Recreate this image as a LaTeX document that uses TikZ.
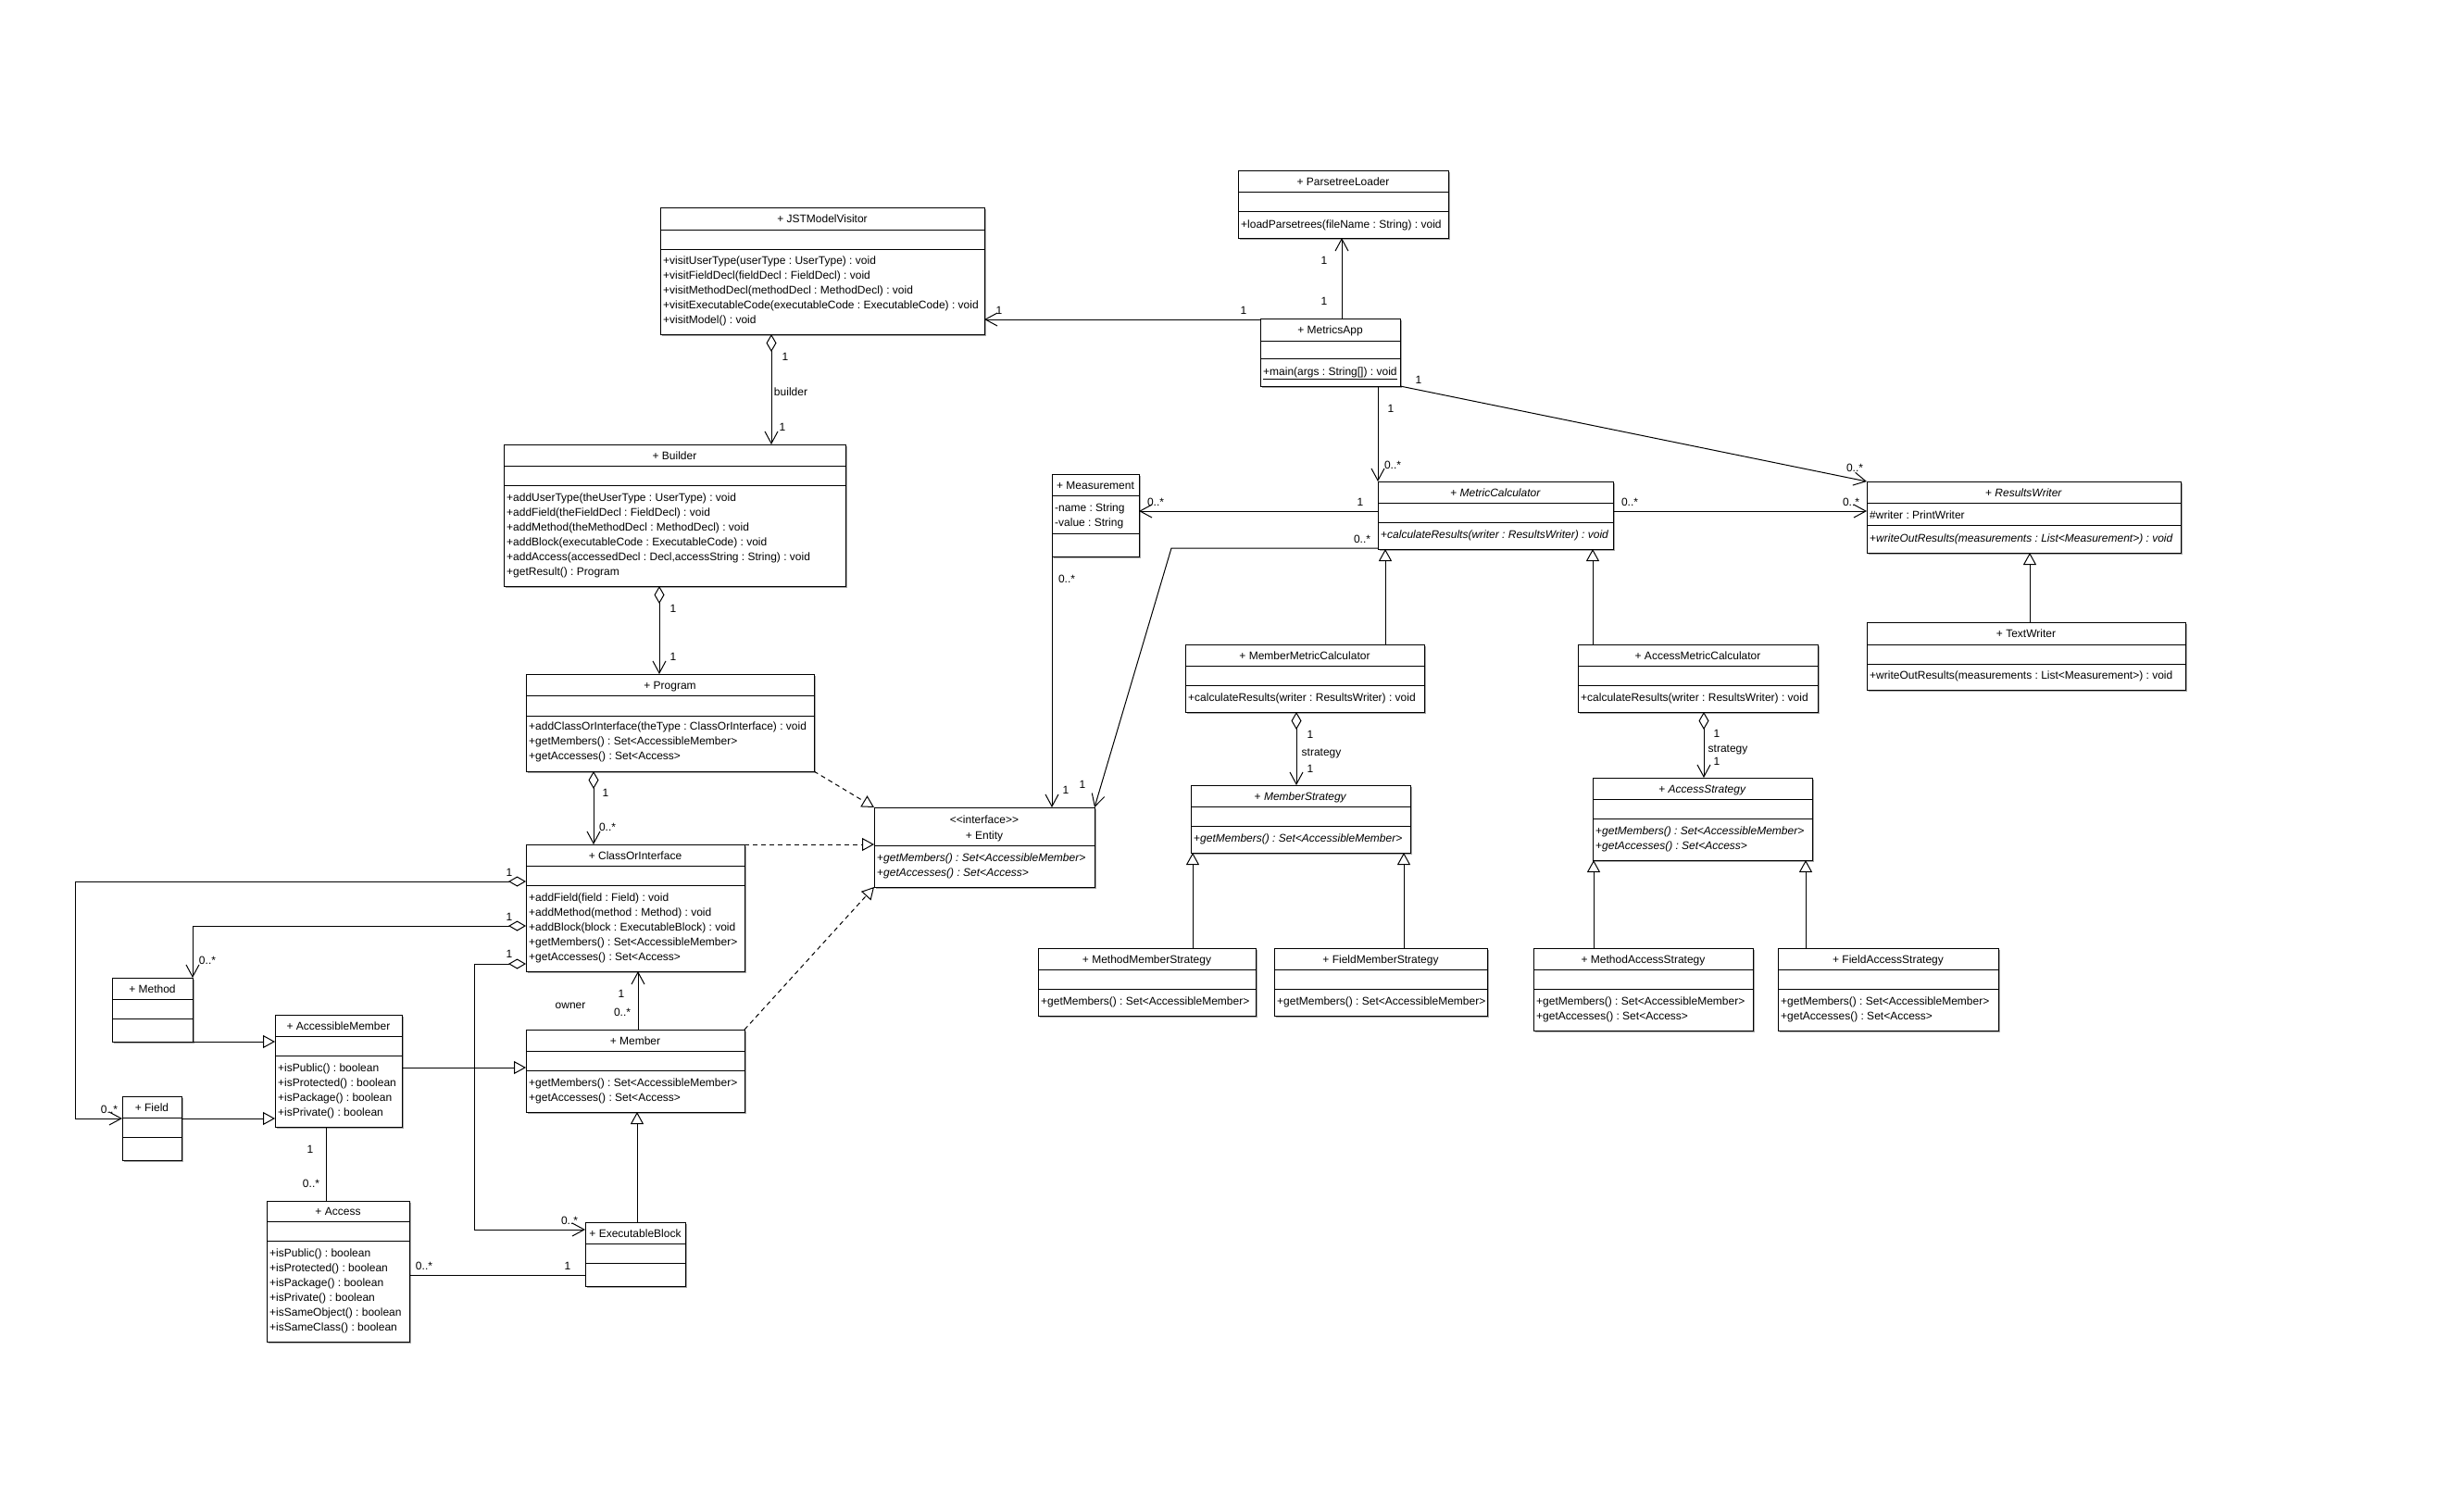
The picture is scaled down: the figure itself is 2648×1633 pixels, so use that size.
\documentclass[tikz,border=0pt]{standalone}
\usepackage{fontspec}
\setmainfont{Liberation Sans}
\usetikzlibrary{arrows.meta}
\frenchspacing
\tikzset{
  shd/.style={fill=black!35},
  clsbox/.style={draw=black, fill=white, line width=1pt, inner sep=0pt, outer sep=0pt},
  sepl/.style={draw=black, line width=1pt},
  ttl/.style={inner sep=0pt, anchor=center, text height=12pt, text depth=3pt, font=\fontsize{12}{14}\selectfont},
  mtxt/.style={inner sep=0pt, anchor=west, text height=12pt, text depth=3pt, font=\fontsize{12}{14}\selectfont},
  lbtxt/.style={inner sep=0pt, anchor=center, text height=12pt, text depth=3pt, font=\fontsize{12}{14}\selectfont},
  conn/.style={draw=black, line width=1pt},
  assoc/.style={conn, -{Straight Barb[length=13pt,width=14pt,line width=1pt]}},
  plainassoc/.style={conn},
  gen/.style={conn, -{Triangle[length=13pt,width=14pt,fill=white,line width=1pt]}},
  real/.style={conn, dash pattern=on 5pt off 4pt, -{Triangle[length=13pt,width=14pt,fill=white,line width=1pt]}},
  aggr/.style={conn, {Diamond[length=19pt,width=11pt,fill=white,line width=1pt]}-{Straight Barb[length=13pt,width=14pt,line width=1pt]}},
}
\newcommand\ucls[8]{%
  \fill[shd] ({#2+2},{#3+2}) rectangle ({#4+2},{#5+2});
  \node[clsbox, minimum width={(#4-#2)*1pt}, minimum height={(#5-#3)*1pt}] (#1) at ({(#2+#4)/2},{(#3+#5)/2}) {};
  \draw[sepl] (#1.west |- 0,#6) -- (#1.east |- 0,#6);
  \draw[sepl] (#1.west |- 0,#7) -- (#1.east |- 0,#7);
  \node[ttl] (#1t) at ({(#2+#4)/2},{(#3+#6)/2}) {#8};
}
\newcommand\ml[4]{\node[mtxt] (#1) at (#2,#3) {#4};}
\newcommand\lbl[4]{\node[lbtxt] (#1) at (#2,#3) {#4};}
\begin{document}
\begin{tikzpicture}[x=1pt,y=-1pt]
\fill[white] (0,0) rectangle (2648,1633);
\useasboundingbox (0,0) rectangle (2648,1633);

% ---------- classes ----------
\ucls{plt}{1337}{184}{1564}{257}{207}{228}{+ ParsetreeLoader}
\ml{plt1}{1340}{242}{+loadParsetrees(fileName : String) : void}

\ucls{jst}{713}{224}{1063}{361}{248}{269}{+ JSTModelVisitor}
\ml{jst1}{716}{281}{+visitUserType(userType : UserType) : void}
\ml{jst2}{716}{297}{+visitFieldDecl(fieldDecl : FieldDecl) : void}
\ml{jst3}{716}{313}{+visitMethodDecl(methodDecl : MethodDecl) : void}
\ml{jst4}{716}{329}{+visitExecutableCode(executableCode : ExecutableCode) : void}
\ml{jst5}{716}{345}{+visitModel() : void}

\ucls{mapp}{1361}{344}{1512}{417}{368}{387}{+ MetricsApp}
\ml{mapp1}{1364}{401}{\underline{+main(args : String[]) : void}}

\ucls{bld}{544}{480}{913}{633}{503}{524}{+ Builder}
\ml{bld1}{547}{537}{+addUserType(theUserType : UserType) : void}
\ml{bld2}{547}{553}{+addField(theFieldDecl : FieldDecl) : void}
\ml{bld3}{547}{569}{+addMethod(theMethodDecl : MethodDecl) : void}
\ml{bld4}{547}{585}{+addBlock(executableCode : ExecutableCode) : void}
\ml{bld5}{547}{601}{+addAccess(accessedDecl : Decl,accessString : String) : void}
\ml{bld6}{547}{617}{+getResult() : Program}

\ucls{prg}{568}{728}{879}{833}{751}{773}{+ Program}
\ml{prg1}{571}{784}{+addClassOrInterface(theType : ClassOrInterface) : void}
\ml{prg2}{571}{800}{+getMembers() : Set<AccessibleMember>}
\ml{prg3}{571}{816}{+getAccesses() : Set<Access>}

\ucls{coi}{568}{912}{804}{1049}{935}{956}{+ ClassOrInterface}
\ml{coi1}{571}{969}{+addField(field : Field) : void}
\ml{coi2}{571}{985}{+addMethod(method : Method) : void}
\ml{coi3}{571}{1001}{+addBlock(block : ExecutableBlock) : void}
\ml{coi4}{571}{1017}{+getMembers() : Set<AccessibleMember>}
\ml{coi5}{571}{1033}{+getAccesses() : Set<Access>}

\ucls{mth}{121}{1056}{208}{1125}{1079}{1100}{+ Method}

\ucls{acm}{297}{1096}{434}{1217}{1119}{1140}{+ AccessibleMember}
\ml{acm1}{300}{1153}{+isPublic() : boolean}
\ml{acm2}{300}{1169}{+isProtected() : boolean}
\ml{acm3}{300}{1185}{+isPackage() : boolean}
\ml{acm4}{300}{1201}{+isPrivate() : boolean}

\ucls{fld}{132}{1184}{196}{1253}{1207}{1228}{+ Field}

\ucls{mem}{568}{1112}{804}{1201}{1135}{1156}{+ Member}
\ml{mem1}{571}{1169}{+getMembers() : Set<AccessibleMember>}
\ml{mem2}{571}{1185}{+getAccesses() : Set<Access>}

\ucls{acc}{288}{1297}{442}{1449}{1319}{1340}{+ Access}
\ml{acc1}{291}{1353}{+isPublic() : boolean}
\ml{acc2}{291}{1369}{+isProtected() : boolean}
\ml{acc3}{291}{1385}{+isPackage() : boolean}
\ml{acc4}{291}{1401}{+isPrivate() : boolean}
\ml{acc5}{291}{1417}{+isSameObject() : boolean}
\ml{acc6}{291}{1433}{+isSameClass() : boolean}

\ucls{exb}{632}{1320}{740}{1389}{1343}{1364}{+ ExecutableBlock}

% Entity interface
\fill[shd] (946,874) rectangle (1184,960);
\node[clsbox, minimum width=238pt, minimum height=86pt] (ent) at (1063,915) {};
\draw[sepl] (ent.west |- 0,913) -- (ent.east |- 0,913);
\node[ttl] (entt1) at (1063,885) {<{}<interface>{}>};
\node[ttl] (entt2) at (1063,902) {+ Entity};
\ml{ent1}{947}{926}{+\textit{getMembers() : Set<AccessibleMember>}}
\ml{ent2}{947}{942}{+\textit{getAccesses() : Set<Access>}}

\ucls{msr}{1136}{512}{1230}{601}{535}{576}{+ Measurement}
\ml{msr1}{1139}{548}{-name : String}
\ml{msr2}{1139}{564}{-value : String}

\ucls{mc}{1488}{520}{1742}{593}{543}{564}{+ \textit{MetricCalculator}}
\ml{mc1}{1491}{577}{+\textit{calculateResults(writer : ResultsWriter) : void}}

\ucls{rw}{2016}{520}{2355}{597}{543}{567}{+ \textit{ResultsWriter}}
\ml{rw1}{2019}{556}{\#writer : PrintWriter}
\ml{rw2}{2019}{581}{+\textit{writeOutResults(measurements : List<Measurement>) : void}}

\ucls{tw}{2016}{672}{2360}{745}{696}{717}{+ TextWriter}
\ml{tw1}{2019}{729}{+writeOutResults(measurements : List<Measurement>) : void}

\ucls{mmc}{1280}{696}{1538}{769}{719}{740}{+ MemberMetricCalculator}
\ml{mmc1}{1283}{753}{+calculateResults(writer : ResultsWriter) : void}

\ucls{amc}{1704}{696}{1963}{769}{719}{740}{+ AccessMetricCalculator}
\ml{amc1}{1707}{753}{+calculateResults(writer : ResultsWriter) : void}

\ucls{ms}{1286}{848}{1523}{921}{871}{892}{+ \textit{MemberStrategy}}
\ml{ms1}{1289}{905}{+\textit{getMembers() : Set<AccessibleMember>}}

\ucls{acs}{1720}{840}{1957}{929}{863}{884}{+ \textit{AccessStrategy}}
\ml{acs1}{1723}{897}{+\textit{getMembers() : Set<AccessibleMember>}}
\ml{acs2}{1723}{913}{+\textit{getAccesses() : Set<Access>}}

\ucls{mms}{1121}{1024}{1356}{1097}{1047}{1068}{+ MethodMemberStrategy}
\ml{mms1}{1124}{1081}{+getMembers() : Set<AccessibleMember>}

\ucls{fms}{1376}{1024}{1606}{1097}{1047}{1068}{+ FieldMemberStrategy}
\ml{fms1}{1379}{1081}{+getMembers() : Set<AccessibleMember>}

\ucls{mas}{1656}{1024}{1893}{1113}{1047}{1068}{+ MethodAccessStrategy}
\ml{mas1}{1659}{1081}{+getMembers() : Set<AccessibleMember>}
\ml{mas2}{1659}{1097}{+getAccesses() : Set<Access>}

\ucls{fas}{1920}{1024}{2158}{1113}{1047}{1068}{+ FieldAccessStrategy}
\ml{fas1}{1923}{1081}{+getMembers() : Set<AccessibleMember>}
\ml{fas2}{1923}{1097}{+getAccesses() : Set<Access>}

% ---------- connectors ----------
\draw[assoc] (mapp.north -| 1449,0) -- (plt.south -| 1449,0);
\draw[assoc] (mapp.west |- 0,345) -- (jst.east |- 0,345);
\draw[aggr] (jst.south -| 833,0) -- (bld.north -| 833,0);
\draw[aggr] (bld.south -| 712,0) -- (prg.north -| 712,0);
\draw[aggr] (prg.south -| 641,0) -- (coi.north -| 641,0);
\draw[aggr] (coi.west |- 0,952) -- (81,952) -- (81,1208) -- (fld.west |- 0,1208);
\draw[aggr] (coi.west |- 0,1000) -| (mth.north east);
\draw[aggr] (coi.west |- 0,1041) -- (512,1041) -- (512,1328) -- (exb.west |- 0,1328);
\draw[gen] (mth.south east) -- (acm.west |- mth.south east);
\draw[gen] (fld.east |- 0,1208) -- (acm.west |- 0,1208);
\draw[gen] (acm.east |- 0,1153) -- (mem.west |- 0,1153);
\draw[assoc] (mem.north -| 689,0) -- (coi.south -| 689,0);
\draw[gen] (exb.north -| 688,0) -- (mem.south -| 688,0);
\draw[plainassoc] (acm.south -| 352,0) -- (acc.north -| 352,0);
\draw[plainassoc] (acc.east |- 0,1377) -- (exb.west |- 0,1377);
\draw[real] (prg.south east) -- (ent.north west);
\draw[real] (coi.north east) -- (coi.north east -| ent.west);
\draw[real] (mem.north east) -- (ent.south west);
\draw[assoc] (msr.south west) -- (msr.south west |- ent.north);
\draw[assoc] (mc.west |- 0,592) -- (1265,592) -- (ent.north east);
\draw[assoc] (mc.west |- 0,552) -- (msr.east |- 0,552);
\draw[assoc] (mc.north west |- mapp.south) -- (mc.north west);
\draw[assoc] (mapp.south east) -- (rw.north west);
\draw[assoc] (mc.east |- 0,552) -- (rw.west |- 0,552);
\draw[gen] (mmc.north -| 1496,0) -- (mc.south -| 1496,0);
\draw[gen] (amc.north -| 1720,0) -- (mc.south -| 1720,0);
\draw[gen] (tw.north -| 2192,0) -- (rw.south -| 2192,0);
\draw[aggr] (mmc.south -| 1400,0) -- (ms.north -| 1400,0);
\draw[aggr] (amc.south -| 1840,0) -- (acs.north -| 1840,0);
\draw[gen] (mms.north -| 1288,0) -- (ms.south -| 1288,0);
\draw[gen] (fms.north -| 1516,0) -- (ms.south -| 1516,0);
\draw[gen] (mas.north -| 1721,0) -- (acs.south -| 1721,0);
\draw[gen] (fas.north -| 1950,0) -- (acs.south -| 1950,0);

% ---------- labels ----------
\lbl{la1}{1430}{281}{1} \lbl{la2}{1430}{325}{1}
\lbl{lb1}{1079}{335}{1} \lbl{lb2}{1343}{335}{1}
\lbl{lc1}{848}{385}{1} \lbl{lc2}{854}{423}{builder} \lbl{lc3}{845}{461}{1}
\lbl{ld1}{727}{657}{1} \lbl{ld2}{727}{709}{1}
\lbl{le1}{654}{856}{1} \lbl{le2}{656}{893}{0..*}
\lbl{lf1}{550}{942}{1} \lbl{lf2}{118}{1198}{0..*}
\lbl{lg1}{550}{990}{1} \lbl{lg2}{224}{1037}{0..*}
\lbl{lh1}{550}{1030}{1} \lbl{lh2}{615}{1318}{0..*}
\lbl{ll1}{671}{1073}{1} \lbl{ll2}{616}{1085}{owner} \lbl{ll3}{672}{1093}{0..*}
\lbl{ln1}{335}{1241}{1} \lbl{ln2}{336}{1278}{0..*}
\lbl{lo1}{458}{1367}{0..*} \lbl{lo2}{613}{1367}{1}
\lbl{ls1}{1152}{625}{0..*} \lbl{ls2}{1151}{853}{1}
\lbl{lt1}{1471}{582}{0..*} \lbl{lt2}{1169}{847}{1}
\lbl{lu1}{1248}{542}{0..*} \lbl{lu2}{1469}{542}{1}
\lbl{lv1}{1502}{441}{1} \lbl{lv2}{1504}{502}{0..*}
\lbl{lw1}{1532}{410}{1} \lbl{lw2}{2003}{505}{0..*}
\lbl{lx1}{1760}{542}{0..*} \lbl{lx2}{1999}{542}{0..*}
\lbl{lbb1}{1415}{793}{1} \lbl{lbb2}{1427}{812}{strategy} \lbl{lbb3}{1415}{830}{1}
\lbl{lcc1}{1854}{792}{1} \lbl{lcc2}{1866}{808}{strategy} \lbl{lcc3}{1854}{822}{1}
\end{tikzpicture}
\end{document}
